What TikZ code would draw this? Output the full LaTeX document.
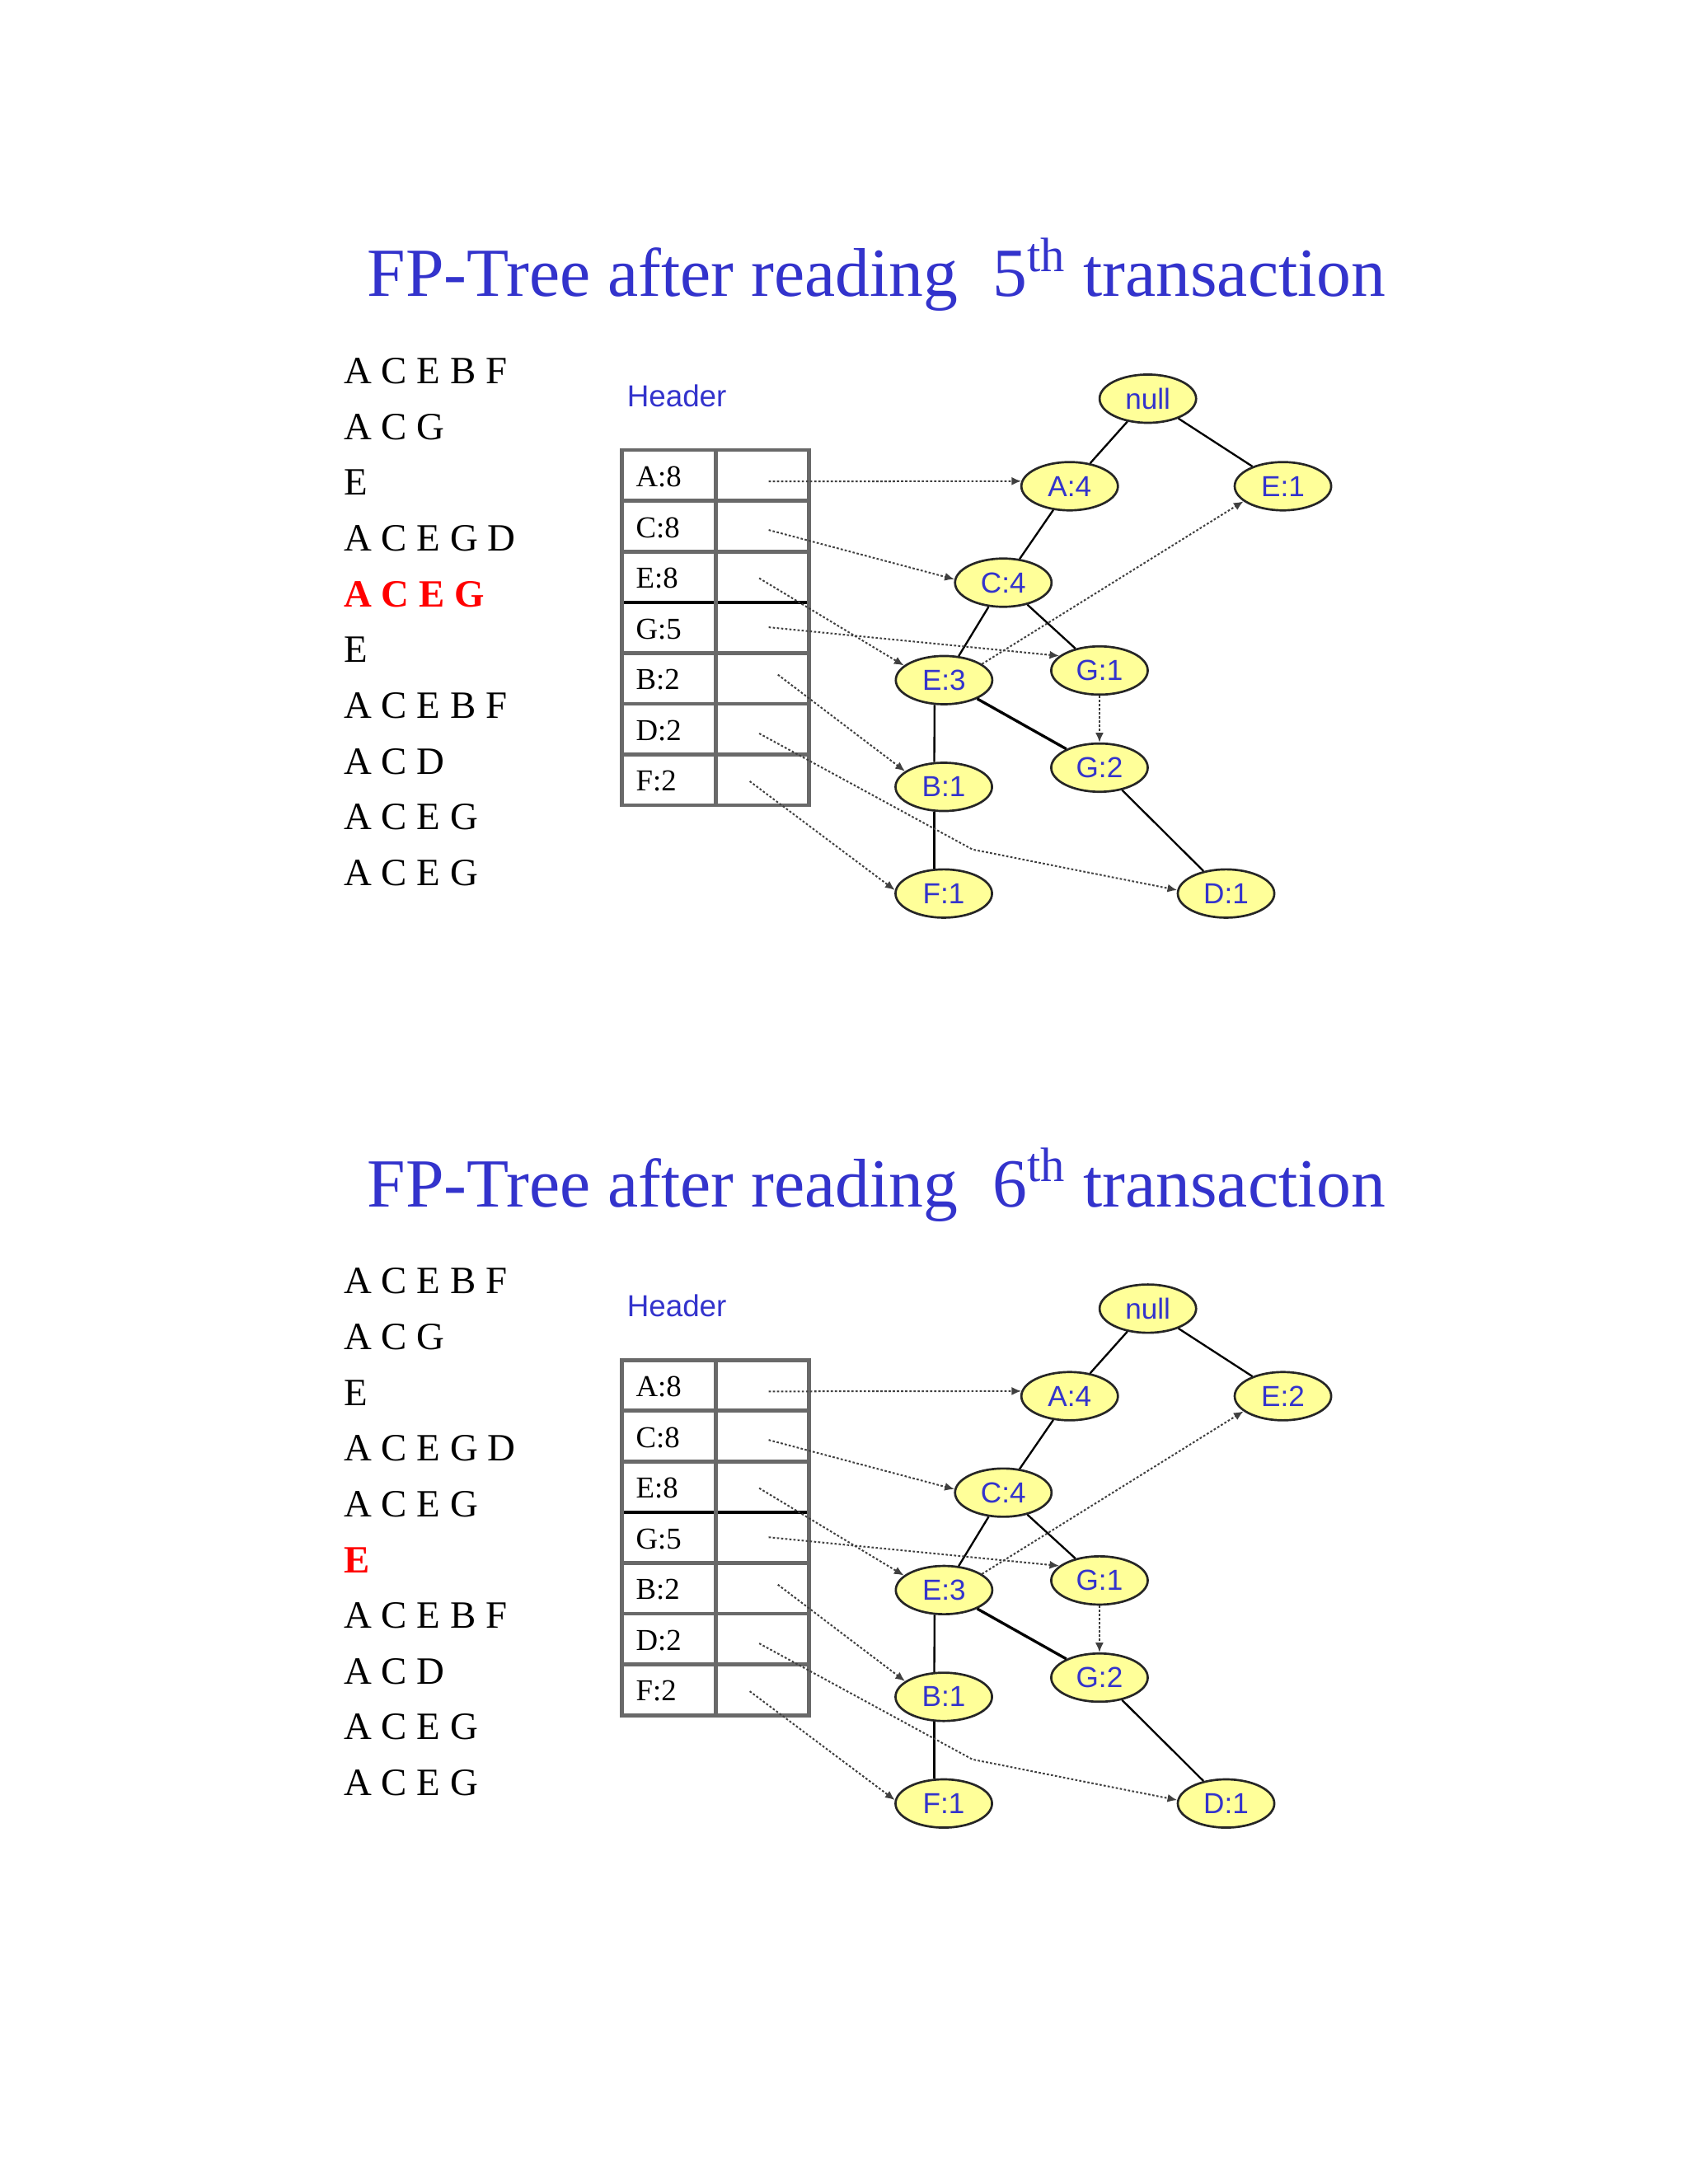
\documentclass[tikz,border=0pt]{standalone}
\usepackage{fontspec}
\setmainfont{Liberation Serif}
\setsansfont{Liberation Sans}
\usetikzlibrary{shapes.geometric,arrows.meta}
\definecolor{titleblue}{RGB}{51,51,204}
\definecolor{nodeyellow}{RGB}{255,255,153}
\definecolor{tablegray}{RGB}{105,105,105}
\begin{document}
\begin{tikzpicture}[x=0.5055pt,y=-0.5055pt,
  fpnode/.style={draw=black!85,line width=0.8pt,fill=nodeyellow,ellipse,minimum width=35pt,minimum height=17.5pt,inner sep=0pt,text=titleblue,font=\sffamily\fontsize{10.5}{12}\selectfont},
  treeedge/.style={draw,line width=0.7pt},
  hlink/.style={draw=black!75,line width=0.6pt,dash pattern=on 0.8pt off 0.7pt,-{Latex[length=3.5pt,width=3pt]}},
  txrow/.style={anchor=base west,inner sep=0pt,font=\fontsize{14}{16}\selectfont},
  hlabel/.style={anchor=base west,inner sep=0pt,font=\fontsize{11}{13}\selectfont},
  tline/.style={draw=tablegray,line width=1.4pt}]
\useasboundingbox (0,0) rectangle (1210.7,1566.8);
\foreach \k/\dy/\nth/\ecnt/\redrow in {1/0/5/1/5, 2/652.8/6/2/6}{
\begin{scope}[shift={(0,\dy)}]
% title and transactions
\node[anchor=base west,inner sep=0pt,text=titleblue,font=\fontsize{25}{30}\selectfont] (title-\k) at (263,212.8) {FP-Tree after reading\ \ \nth\textsuperscript{th} transaction};
\foreach \t [count=\i] in {A C E B F,A C G,E,A C E G D,A C E G,E,A C E B F,A C D,A C E G,A C E G}{
  \ifnum\i=\redrow\relax
    \node[txrow,text=red,font=\fontsize{14}{16}\selectfont\bfseries] (tx-\k-\i) at (246.3,{275.3+40*(\i-1)}) {\t};
  \else
    \node[txrow] (tx-\k-\i) at (246.3,{275.3+40*(\i-1)}) {\t};
  \fi
}
% header table
\node[anchor=base west,inner sep=0pt,text=titleblue,font=\sffamily\fontsize{11}{13}\selectfont] (header-\k) at (449.4,291.8) {Header};
\foreach \j in {1,2,4,5,6}
  \path[tline] (446,{322.9+36.4*\j}) -- (580.3,{322.9+36.4*\j});
\path[draw,black,line width=1pt] (446,432.1) -- (580.3,432.1);
\path[tline] (446,322.9) rectangle (580.3,577.7);
\path[tline] (513.3,322.9) -- (513.3,577.7);
\foreach \lab [count=\j] in {A:8,C:8,E:8,G:5,B:2,D:2,F:2}
  \node[hlabel] (hd-\k-\j) at (455.8,{322.9+36.4*(\j-1)+26.2}) {\lab};
% tree
\node[fpnode] (null-\k) at (823.4,286) {null};
\node[fpnode] (a4-\k) at (767.3,348.8) {A:4};
\node[fpnode] (e1-\k) at (920.3,348.8) {E:\ecnt};
\node[fpnode] (c4-\k) at (719.7,418) {C:4};
\node[fpnode] (e3-\k) at (677.2,487.9) {E:3};
\node[fpnode] (g1-\k) at (788.7,481) {G:1};
\node[fpnode] (g2-\k) at (788.7,550.7) {G:2};
\node[fpnode] (b1-\k) at (677,564.5) {B:1};
\node[fpnode] (f1-\k) at (677,641) {F:1};
\node[fpnode] (d1-\k) at (879.5,641) {D:1};
\path[treeedge] (null-\k) -- (a4-\k);
\path[treeedge] (null-\k) -- (e1-\k);
\path[treeedge] (a4-\k) -- (c4-\k);
\path[treeedge] (c4-\k) -- (e3-\k);
\path[treeedge] (c4-\k) -- (g1-\k);
\path[treeedge,line width=1pt] (e3-\k) -- (g2-\k);
\path[treeedge] (e3-\k.249) -- (b1-\k.111);
\path[treeedge] (b1-\k.249) -- (f1-\k.111);
\path[treeedge] (g2-\k) -- (d1-\k);
% node links
\coordinate (sA-\k) at (551.4,345.4);
\coordinate (sC-\k) at (551.4,380.2);
\coordinate (sE-\k) at (544.6,414.8);
\coordinate (sG-\k) at (551.4,450);
\coordinate (sB-\k) at (558,484);
\coordinate (sD-\k) at (544.6,526.2);
\coordinate (sF-\k) at (537.8,560.5);
\coordinate (bD-\k) at (697.6,609.4);
\path[hlink] (sA-\k) -- (a4-\k.174);
\path[hlink] (sC-\k) -- (c4-\k.176);
\path[hlink] (sE-\k) -- (e3-\k.160);
\path[hlink] (sG-\k) -- (g1-\k.160);
\path[hlink] (sB-\k) -- (b1-\k.158);
\path[hlink] (sD-\k) -- (bD-\k) -- (d1-\k.176);
\path[hlink] (sF-\k) -- (f1-\k.176);
\path[hlink] (e3-\k.23) -- (e1-\k.201);
\path[hlink] (g1-\k) -- (g2-\k);
\end{scope}
}
\end{tikzpicture}
\end{document}
